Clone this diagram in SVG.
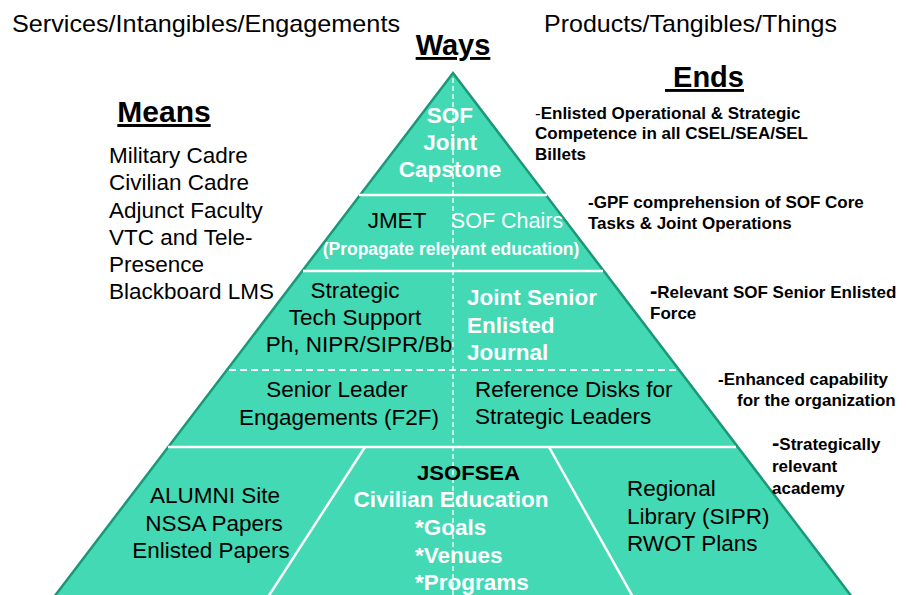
<svg xmlns="http://www.w3.org/2000/svg" width="907" height="595" viewBox="0 0 907 595">
<style>
text{font-family:"Liberation Sans",Arial,sans-serif}
.hd{font-size:24px;fill:#000}
.ttl{font-size:29px;font-weight:bold;fill:#000;text-decoration:underline}
.lst{font-size:22.5px;fill:#000}
.blk{font-size:22.5px;fill:#000}
.wb{font-size:22.5px;fill:#fff;font-weight:bold}
.end{font-size:17px;font-weight:bold;fill:#000}
.sep{stroke:#fff;stroke-width:2.5;fill:none}
.dash{stroke:#fff;stroke-width:2;fill:none;stroke-dasharray:7 4}
.vdash{stroke:#fff;stroke-width:1.3;fill:none;stroke-dasharray:5 3}
</style>
<rect width="907" height="595" fill="#fff"/>
<text class="hd" x="12" y="32" textLength="388" lengthAdjust="spacingAndGlyphs">Services/Intangibles/Engagements</text>
<text class="hd" x="544" y="32" textLength="293" lengthAdjust="spacingAndGlyphs">Products/Tangibles/Things</text>
<text class="ttl" x="453" y="55" text-anchor="middle">Ways</text>
<text class="ttl" x="665" y="87">&#160;Ends</text>
<text class="ttl" x="164" y="122" text-anchor="middle" style="font-size:30px">Means</text>
<g id="means">
<text class="lst" x="109" y="163">Military Cadre</text>
<text class="lst" x="109" y="190">Civilian Cadre</text>
<text class="lst" x="109" y="218">Adjunct Faculty</text>
<text class="lst" x="109" y="245">VTC and Tele-</text>
<text class="lst" x="109" y="272">Presence</text>
<text class="lst" x="109" y="299">Blackboard LMS</text>
</g>
<g id="pyramid">
<polygon points="453,73 852,597 54,597" fill="#42d9b4" stroke="#1b9877" stroke-width="2.5"/>
</g>
<g id="connectors">
<line class="vdash" x1="453" y1="78" x2="453" y2="595"/>
<line class="sep" x1="359" y1="195" x2="547" y2="195"/>
<line class="sep" x1="303" y1="271" x2="603" y2="271"/>
<line class="dash" x1="229" y1="370" x2="676" y2="370"/>
<line class="sep" x1="168" y1="447" x2="736" y2="447"/>
<line class="sep" x1="365" y1="447" x2="268" y2="597"/>
<line class="sep" x1="549" y1="447" x2="633" y2="597"/>
</g>
<g id="capstone">
<text class="wb" x="450" y="123" text-anchor="middle">SOF</text>
<text class="wb" x="450" y="150" text-anchor="middle">Joint</text>
<text class="wb" x="450" y="177" text-anchor="middle">Capstone</text>
</g>
<g id="jmet">
<text class="blk" x="397" y="228" text-anchor="middle">JMET</text>
<text x="507" y="228" text-anchor="middle" style="font-size:21.5px;fill:#fff">SOF Chairs</text>
<text x="451" y="255" text-anchor="middle" style="font-size:17.5px;fill:#fff;font-weight:bold">(Propagate relevant education)</text>
</g>
<g id="techsupport">
<text class="blk" x="355" y="298" text-anchor="middle">Strategic</text>
<text class="blk" x="355" y="325" text-anchor="middle">Tech Support</text>
<text class="blk" x="359" y="352" text-anchor="middle">Ph, NIPR/SIPR/Bb</text>
</g>
<g id="journal">
<text class="wb" x="467" y="305">Joint Senior</text>
<text class="wb" x="467" y="333">Enlisted</text>
<text class="wb" x="467" y="360">Journal</text>
</g>
<g id="engagements">
<text class="blk" x="337" y="397" text-anchor="middle">Senior Leader</text>
<text class="blk" x="339" y="425" text-anchor="middle">Engagements (F2F)</text>
</g>
<g id="refdisks">
<text class="blk" x="475" y="397">Reference Disks for</text>
<text class="blk" x="475" y="424">Strategic Leaders</text>
</g>
<g id="alumni">
<text class="blk" x="215" y="503" text-anchor="middle">ALUMNI Site</text>
<text class="blk" x="214" y="531" text-anchor="middle">NSSA Papers</text>
<text class="blk" x="211" y="558" text-anchor="middle">Enlisted Papers</text>
</g>
<g id="jsofsea">
<text x="417" y="480" textLength="103" lengthAdjust="spacingAndGlyphs" style="font-size:20px;font-weight:bold;fill:#000">JSOFSEA</text>
<text class="wb" x="451" y="507" text-anchor="middle">Civilian Education</text>
<text class="wb" x="415" y="535">*Goals</text>
<text class="wb" x="415" y="563">*Venues</text>
<text class="wb" x="415" y="590">*Programs</text>
</g>
<g id="library">
<text class="blk" x="627" y="496">Regional</text>
<text class="blk" x="627" y="524">Library (SIPR)</text>
<text class="blk" x="627" y="551">RWOT Plans</text>
</g>
<g id="ends">
<text class="end" x="535" y="119"><tspan style="font-weight:normal">-</tspan>Enlisted Operational &amp; Strategic</text>
<text class="end" x="535" y="139">Competence in all CSEL/SEA/SEL</text>
<text class="end" x="535" y="160">Billets</text>
<text class="end" x="588" y="208">-GPF comprehension of SOF Core</text>
<text class="end" x="588" y="229">Tasks &amp; Joint Operations</text>
<text class="end" x="650" y="298"><tspan style="font-size:22px">-</tspan>Relevant SOF Senior Enlisted</text>
<text class="end" x="650" y="319">Force</text>
<text class="end" x="718" y="385">-Enhanced capability</text>
<text class="end" x="737" y="406">for the organization</text>
<text class="end" x="772" y="450"><tspan style="font-size:22px">-</tspan>Strategically</text>
<text class="end" x="772" y="472">relevant</text>
<text class="end" x="772" y="494">academy</text>
</g>
</svg>
